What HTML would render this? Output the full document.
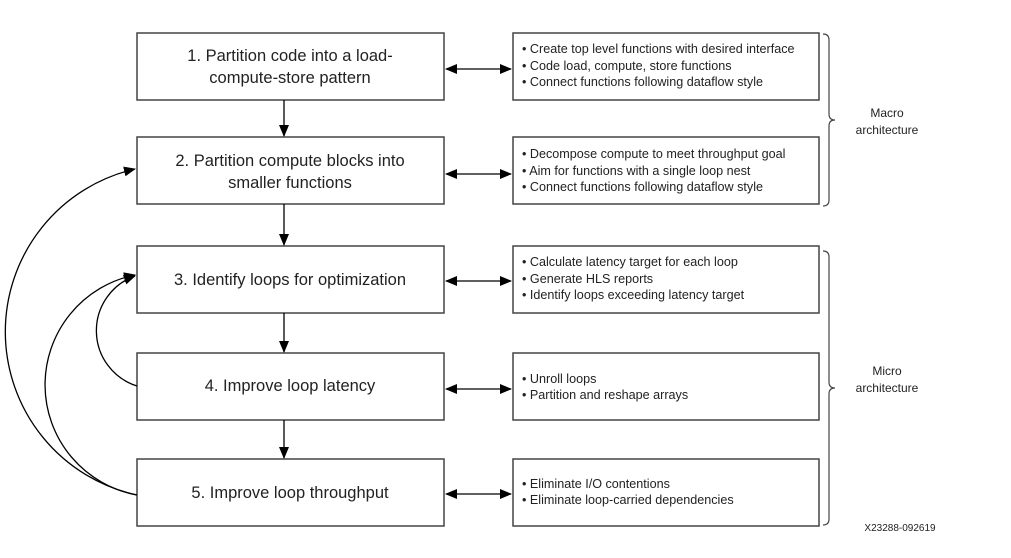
<!DOCTYPE html>
<html><head><meta charset="utf-8"><style>
body{margin:0;background:#fff;width:1011px;height:558px;overflow:hidden}
svg{display:block}
.L{font-family:"Liberation Sans",sans-serif;font-size:16.5px;fill:#222;text-anchor:middle}
.R{font-family:"Liberation Sans",sans-serif;font-size:12.6px;fill:#222}
.S{font-family:"Liberation Sans",sans-serif;font-size:12px;fill:#222;text-anchor:middle}
</style></head><body>
<svg width="1011" height="558" viewBox="0 0 1011 558">
<defs><marker id="a" markerWidth="12" markerHeight="10" refX="11" refY="5" orient="auto-start-reverse" markerUnits="userSpaceOnUse"><path d="M0,0L12,5L0,10z" fill="#000"/></marker></defs>
<g fill="#fff" stroke="#444" stroke-width="1.5">
<rect x="137" y="33" width="307" height="67"/>
<rect x="137" y="137" width="307" height="67"/>
<rect x="137" y="246" width="307" height="67"/>
<rect x="137" y="353" width="307" height="67"/>
<rect x="137" y="459" width="307" height="67"/>
<rect x="513" y="33" width="306" height="67"/>
<rect x="513" y="137" width="306" height="67"/>
<rect x="513" y="246" width="306" height="67"/>
<rect x="513" y="353" width="306" height="67"/>
<rect x="513" y="459" width="306" height="67"/>
</g>
<g stroke="#000" stroke-width="1.3" fill="none" marker-end="url(#a)">
<line x1="284" y1="100" x2="284" y2="136"/>
<line x1="284" y1="204" x2="284" y2="245"/>
<line x1="284" y1="313" x2="284" y2="352"/>
<line x1="284" y1="420" x2="284" y2="458"/>
<g marker-start="url(#a)">
<line x1="446" y1="69" x2="511" y2="69"/>
<line x1="446" y1="174" x2="511" y2="174"/>
<line x1="446" y1="281" x2="511" y2="281"/>
<line x1="446" y1="389" x2="511" y2="389"/>
<line x1="446" y1="494" x2="511" y2="494"/>
</g>
<path d="M137,495 A167,167 0 0 1 135,169"/>
<path d="M137,495 A112,112 0 0 1 135,275"/>
<path d="M137,386 A58,58 0 0 1 135,276"/>
</g>
<g stroke="#444" stroke-width="1.2" fill="none">
<path d="M823,34 q6,0 6,6 v74 q0,6 6,6 q-6,0 -6,6 v74 q0,6 -6,6"/>
<path d="M823,251 q6,0 6,6 v125 q0,6 6,6 q-6,0 -6,6 v125 q0,6 -6,6"/>
</g>
<text class="L" x="290" y="61">1. Partition code into a load-</text>
<text class="L" x="290" y="83">compute-store pattern</text>
<text class="L" x="290" y="166">2. Partition compute blocks into</text>
<text class="L" x="290" y="188">smaller functions</text>
<text class="L" x="290" y="285">3. Identify loops for optimization</text>
<text class="L" x="290" y="391">4. Improve loop latency</text>
<text class="L" x="290" y="498">5. Improve loop throughput</text>
<text class="R" x="522" y="53">• Create top level functions with desired interface</text>
<text class="R" x="522" y="70">• Code load, compute, store functions</text>
<text class="R" x="522" y="86">• Connect functions following dataflow style</text>
<text class="R" x="522" y="158">• Decompose compute to meet throughput goal</text>
<text class="R" x="522" y="175">• Aim for functions with a single loop nest</text>
<text class="R" x="522" y="191">• Connect functions following dataflow style</text>
<text class="R" x="522" y="266">• Calculate latency target for each loop</text>
<text class="R" x="522" y="283">• Generate HLS reports</text>
<text class="R" x="522" y="299">• Identify loops exceeding latency target</text>
<text class="R" x="522" y="383">• Unroll loops</text>
<text class="R" x="522" y="399">• Partition and reshape arrays</text>
<text class="R" x="522" y="488">• Eliminate I/O contentions</text>
<text class="R" x="522" y="504">• Eliminate loop-carried dependencies</text>
<text class="S" x="887" y="117">Macro</text>
<text class="S" x="887" y="134">architecture</text>
<text class="S" x="887" y="375">Micro</text>
<text class="S" x="887" y="392">architecture</text>
<text class="S" x="900" y="531" style="font-size:10px">X23288-092619</text>
</svg>
</body></html>
